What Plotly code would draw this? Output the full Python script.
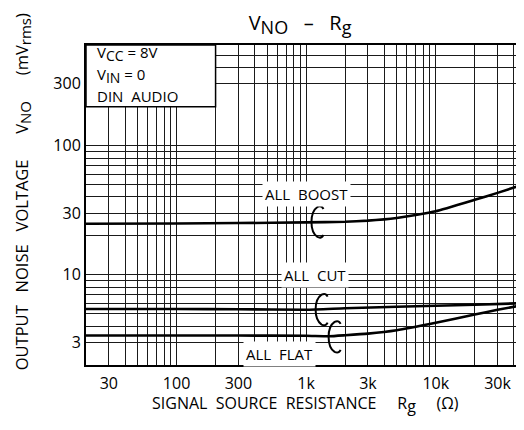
import numpy as np
import plotly.graph_objects as go

# ---- data ----
rg_boost = [20, 100, 300, 1000, 2000, 3000, 4000, 5000, 7000, 10000, 20000, 30000, 42000]
vno_boost = [24.8, 24.9, 25.1, 25.4, 25.7, 26.2, 26.8, 27.5, 29.0, 31.0, 38.0, 43.0, 48.0]

rg_cut = [20, 100, 300, 1000, 2000, 5000, 10000, 20000, 42000]
vno_cut = [5.42, 5.42, 5.40, 5.36, 5.50, 5.65, 5.75, 5.85, 6.0]

rg_flat = [20, 100, 300, 1000, 1500, 2000, 3000, 5000, 10000, 20000, 30000, 42000]
vno_flat = [3.38, 3.38, 3.38, 3.37, 3.34, 3.40, 3.50, 3.72, 4.25, 4.92, 5.35, 5.70]

curve_names = ["ALL BOOST", "ALL CUT", "ALL FLAT"]
bracket_rg = [1180, 1270, 1600]
bracket_vno = [25.6, 5.37, 3.3]

x_grid = [30, 40, 50, 60, 70, 80, 90, 100, 200, 300, 400, 500, 600, 700, 800, 900,
          1000, 2000, 3000, 4000, 5000, 6000, 7000, 8000, 9000, 10000, 20000, 30000, 40000]
x_labels = {30: "30", 100: "100", 300: "300", 1000: "1k", 3000: "3k", 10000: "10k", 30000: "30k"}
y_grid = [3, 4, 5, 6, 7, 8, 9, 10, 20, 30, 40, 50, 60, 70, 80, 90, 100, 300, 400, 500]
y_labels = {3: "3", 10: "10", 30: "30", 100: "100", 300: "300"}

FONT = "Open Sans"


def sub(t, size):
    return "<sub><span style='font-size:%dpx'>%s</span></sub>" % (size, t)


fig = go.Figure()
for xs, ys in [(rg_boost, vno_boost), (rg_cut, vno_cut), (rg_flat, vno_flat)]:
    fig.add_trace(go.Scatter(x=xs, y=ys, mode="lines",
                             line=dict(color="black", width=2.6, shape="spline", smoothing=0.5),
                             showlegend=False, hoverinfo="skip"))

fig.update_layout(
    width=516, height=422,
    margin=dict(l=78, r=0, t=37, b=65),
    paper_bgcolor="white", plot_bgcolor="white",
    font=dict(family=FONT, color="black", size=16),
    title=dict(text="V" + sub("NO", 18) + "  &nbsp;–&nbsp;  R" + sub("g", 18),
               xref="container", x=0.566, xanchor="center",
               yref="container", y=0.965, yanchor="middle", font=dict(size=20, family=FONT)),
)
fig.update_xaxes(type="log", range=[np.log10(20), np.log10(48000)],
                 tickmode="array", tickvals=x_grid,
                 ticktext=[x_labels.get(v, "") for v in x_grid],
                 showgrid=True, gridcolor="#1a1a1a", gridwidth=1,
                 ticks="", showline=True, linecolor="black", linewidth=2, mirror=True,
                 zeroline=False, tickfont=dict(size=16), ticklabelstandoff=3)
fig.update_yaxes(type="log", range=[np.log10(2), np.log10(600)],
                 tickmode="array", tickvals=y_grid,
                 ticktext=[y_labels.get(v, "") for v in y_grid],
                 showgrid=True, gridcolor="#1a1a1a", gridwidth=1,
                 ticks="", showline=True, linecolor="black", linewidth=2, mirror=False,
                 zeroline=False, tickfont=dict(size=16))

# condition box (top-left)
fig.add_shape(type="rect", xref="x", yref="y", x0=20, x1=200, y0=200, y1=600,
              fillcolor="white", line=dict(color="black", width=1.5), layer="above")

cond_lines = ["V" + sub("CC", 14) + " = 8V", "V" + sub("IN", 14) + " = 0", "DIN  AUDIO"]
cond_y = [0.975, 0.905, 0.842]
for t, yy in zip(cond_lines, cond_y):
    fig.add_annotation(text=t, xref="paper", yref="paper", x=0.02, y=yy,
                       xanchor="left", yanchor="middle", showarrow=False,
                       font=dict(size=15, family=FONT))

# curve labels
label_pos = [(1000, 42.5), (1170, 10), (625, 2.44)]
for name, (lx, ly) in zip(curve_names, label_pos):
    fig.add_annotation(text=name.replace(" ", "  "), x=np.log10(lx), y=np.log10(ly),
                       xref="x", yref="y",
                       showarrow=False, bgcolor="white", borderpad=2,
                       font=dict(size=15, family=FONT))

# bracket leaders
bracket_path = "M 8,13 Q 6,17 2,15 Q -4,11 -4,0 Q -4,-11 2,-15 Q 6,-17 8,-13"
for bx, by in zip(bracket_rg, bracket_vno):
    fig.add_shape(type="path", xref="x", yref="y", xsizemode="pixel", ysizemode="pixel",
                  xanchor=bx, yanchor=by, path=bracket_path,
                  line=dict(color="black", width=2), layer="above")

# axis titles
fig.add_annotation(text="OUTPUT   NOISE   VOLTAGE      V" + sub("NO", 15)
                        + "      (mV" + sub("rms", 15) + ")",
                   xref="paper", yref="paper", x=-0.146, y=0.54, textangle=-90,
                   xanchor="center", yanchor="middle", showarrow=False,
                   font=dict(size=16.5, family=FONT))
fig.add_annotation(text="SIGNAL  SOURCE  RESISTANCE     R" + sub("g", 16) + "     (Ω)",
                   xref="paper", yref="paper", x=0.502, y=-0.122,
                   xanchor="center", yanchor="middle", showarrow=False,
                   font=dict(size=16, family=FONT))

fig.write_html("out.html")
